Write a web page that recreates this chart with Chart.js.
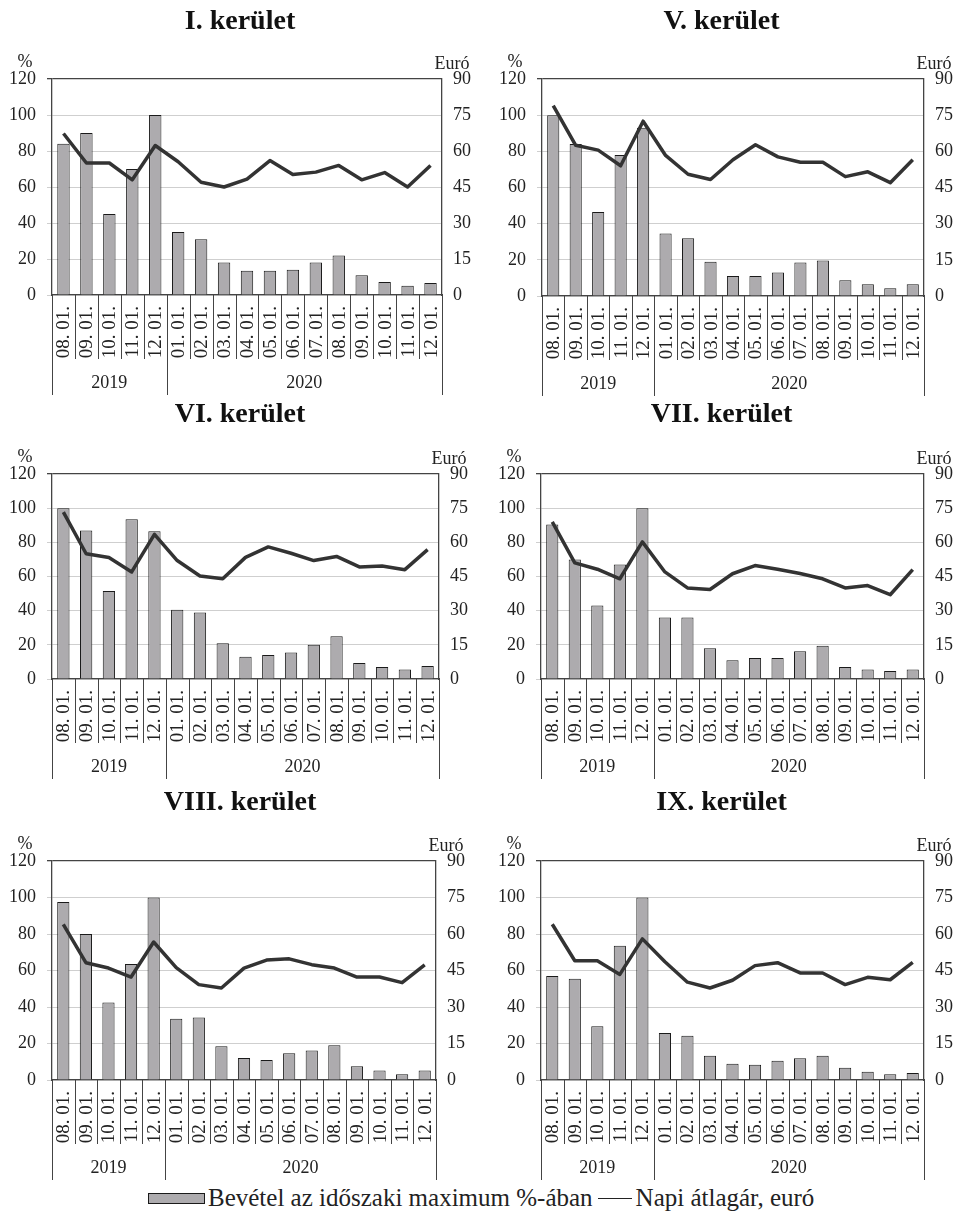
<!DOCTYPE html>
<html>
<head>
<meta charset="utf-8">
<script src="https://cdn.jsdelivr.net/npm/chart.js@4"></script>
<style>
  body { margin: 0; background: #fff; }
  #page { position: relative; width: 963px; height: 1214px; overflow: hidden; font-family: 'Liberation Serif', 'DejaVu Serif', serif; color: #222; }
  .panel { position: absolute; }
  #legend { position: absolute; left: 148px; top: 1183px; height: 30px; display: flex; align-items: center; font-size: 25px; white-space: nowrap; }
  .lbox { width: 55px; height: 9px; background: #adabae; border: 1px solid #1a1a1a; margin-right: 3px; }
  .lline { width: 34px; height: 0; border-top: 1.5px solid #222; margin: 0 4px 0 5px; }
</style>
</head>
<body>
<div id="page">
  <div id="legend">
    <div class="lbox"></div><span>Bevétel az időszaki maximum %-ában</span>
    <div class="lline"></div><span>Napi átlagár, euró</span>
  </div>
</div>
<script>
// month labels
const categories = ["08. 01.", "09. 01.", "10. 01.", "11. 01.", "12. 01.",
  "01. 01.", "02. 01.", "03. 01.", "04. 01.", "05. 01.", "06. 01.",
  "07. 01.", "08. 01.", "09. 01.", "10. 01.", "11. 01.", "12. 01."];
const years = ["2019", "2020"];
const yearCounts = [5, 12];

// revenue, % of max in period
const revI = [84, 90, 45, 70, 100, 35, 31, 18, 13.5, 13.5, 14, 18, 22, 11, 7.2, 5.2, 6.7];
const revV = [100, 84, 46.5, 78, 93, 34.5, 32, 19, 11, 11, 13, 18.5, 19.7, 8.7, 6.5, 4.3, 6.5];
const revVI = [100, 87, 51.5, 93.5, 86.5, 40.5, 39, 21, 13, 14, 15.5, 20, 25, 9.4, 7, 5.5, 7.6];
const revVII = [90.5, 70, 43, 67, 100, 36, 36, 18, 11, 12.3, 12.3, 16.3, 19.5, 7, 5.5, 4.7, 5.5];
const revVIII = [97.5, 80, 42.5, 63.5, 100, 33.5, 34.3, 18.5, 12, 11, 14.7, 16.2, 19, 7.5, 5.2, 3.2, 5.2];
const revIX = [57, 55.5, 29.5, 73.5, 100, 25.7, 24.2, 13.3, 8.9, 8.3, 10.5, 11.9, 13.3, 6.7, 4.5, 3.1, 3.9];

// daily average price, euro
const priceI = [67.3, 55, 55, 48, 62.3, 55.5, 47, 45, 48.3, 56, 50.2, 51.2, 54, 48, 51, 45, 54];
const priceV = [79, 62.5, 60.5, 54, 72.5, 58.3, 50.5, 48.3, 56.5, 62.7, 57.7, 55.5, 55.5, 49.5, 51.5, 47, 56.5];
const priceVI = [73.3, 55, 53.3, 47, 63.5, 52, 45.2, 44, 53.4, 58, 55.2, 52, 53.8, 49.2, 49.6, 48, 56.8];
const priceVII = [69, 51, 48.2, 44, 60.2, 47, 40, 39.3, 46.2, 49.8, 48.2, 46.3, 44, 40, 41, 37, 48];
const priceVIII = [64, 48.2, 46, 42.3, 56.7, 46.2, 39.2, 37.8, 46, 49.3, 49.8, 47.4, 46, 42.3, 42.3, 40, 47.3];
const priceIX = [64, 49, 49, 43.4, 58, 48.6, 40.2, 37.8, 41, 47, 48.2, 44, 44, 39.2, 42.2, 41.2, 48.3];

const pctMax = 120, pctStep = 20;
const euroMax = 90, euroStep = 15;

const FONT = "'Liberation Serif', 'DejaVu Serif', serif";
Chart.defaults.font.family = FONT;
Chart.defaults.color = "#222";

const panels = [
  { title: "I. kerület", rev: revI, price: priceI, x: 0, y: 0, w: 480, h: 400, left: 52, right: 38, top: 79, xh: 105 },
  { title: "V. kerület", rev: revV, price: priceV, x: 480, y: 0, w: 483, h: 400, left: 62, right: 39, top: 79, xh: 104 },
  { title: "VI. kerület", rev: revVI, price: priceVI, x: 0, y: 393, w: 480, h: 397, left: 52, right: 41, top: 81, xh: 111 },
  { title: "VII. kerület", rev: revVII, price: priceVII, x: 480, y: 393, w: 483, h: 397, left: 61, right: 39, top: 81, xh: 111 },
  { title: "VIII. kerület", rev: revVIII, price: priceVIII, x: 0, y: 781, w: 480, h: 433, left: 52, right: 44, top: 80, xh: 134 },
  { title: "IX. kerület", rev: revIX, price: priceIX, x: 480, y: 781, w: 483, h: 433, left: 61, right: 39, top: 80, xh: 134 },
];

// unit labels, rotated month labels, separators and year groups
const extras = {
  id: "extras",
  afterDraw(chart) {
    const ctx = chart.ctx;
    const area = chart.chartArea;
    const xs = chart.scales.x;
    ctx.save();
    ctx.fillStyle = "#222";
    ctx.font = "18px " + FONT;
    ctx.textBaseline = "middle";
    ctx.textAlign = "center";
    ctx.fillText("%", area.left - 27, area.top - 17);
    ctx.fillText("Euró", area.right + 10, area.top - 15);

    // month labels, reading bottom-up
    ctx.font = "19px " + FONT;
    ctx.textAlign = "right";
    categories.forEach((c, i) => {
      ctx.save();
      ctx.translate(xs.getPixelForValue(i) + 1, xs.top + 11);
      ctx.rotate(-Math.PI / 2);
      ctx.fillText(c, 0, 0);
      ctx.restore();
    });

    ctx.strokeStyle = "#444";
    ctx.lineWidth = 1;
    const line = (v, len) => {
      const px = Math.round(xs.getPixelForValue(v)) + 0.5;
      ctx.beginPath();
      ctx.moveTo(px, xs.top);
      ctx.lineTo(px, xs.top + len);
      ctx.stroke();
    };
    for (let i = 0; i <= categories.length; i++) line(i - 0.5, 64);

    ctx.font = "18px " + FONT;
    ctx.textAlign = "center";
    let start = 0;
    line(-0.5, 100);
    years.forEach((yr, i) => {
      const a = start - 0.5, b = start + yearCounts[i] - 0.5;
      line(b, 100);
      const mid = (xs.getPixelForValue(a) + xs.getPixelForValue(b)) / 2;
      ctx.fillText(yr, mid, xs.top + 88);
      start += yearCounts[i];
    });
    ctx.restore();
  },
};

const page = document.getElementById("page");
panels.forEach((p) => {
  const div = document.createElement("div");
  div.className = "panel";
  div.style.left = p.x + "px";
  div.style.top = p.y + "px";
  div.style.width = p.w + "px";
  div.style.height = p.h + "px";
  const cv = document.createElement("canvas");
  div.appendChild(cv);
  page.appendChild(div);

  new Chart(cv, {
    type: "bar",
    data: {
      labels: categories,
      datasets: [
        {
          type: "line",
          data: p.price,
          yAxisID: "y2",
          borderColor: "#333",
          borderWidth: 3.5,
          pointRadius: 0,
          tension: 0,
          borderJoinStyle: "round",
          order: 0,
        },
        {
          type: "bar",
          data: p.rev,
          yAxisID: "y",
          backgroundColor: "#adabae",
          borderColor: "#1a1a1a",
          borderWidth: 1,
          barPercentage: 0.54,
          categoryPercentage: 1,
          order: 1,
        },
      ],
    },
    options: {
      responsive: true,
      maintainAspectRatio: false,
      animation: false,
      layout: { padding: 0 },
      plugins: {
        legend: { display: false },
        tooltip: { enabled: false },
        title: {
          display: true,
          text: p.title,
          color: "#111",
          font: { size: 28, weight: "bold", family: FONT },
          padding: { top: 5.2, bottom: p.top - 38.8 },
        },
      },
      scales: {
        x: {
          offset: true,
          grid: { display: false },
          border: { color: "#444", width: 1.3 },
          ticks: { display: false },
          afterFit: (s) => { s.height = p.xh; },
        },
        y: {
          position: "left",
          min: 0,
          max: pctMax,
          ticks: { stepSize: pctStep, padding: 11, font: { size: 18 }, color: "#222" },
          grid: {
            tickLength: 5,
            color: (c) => (c.tick && c.tick.value === pctMax ? "#444" : "#cfcfcf"),
            lineWidth: (c) => (c.tick && c.tick.value === pctMax ? 1.3 : 1),
          },
          border: { color: "#444", width: 1.3 },
          afterFit: (s) => { s.width = p.left; },
        },
        y2: {
          position: "right",
          min: 0,
          max: euroMax,
          ticks: { stepSize: euroStep, padding: 11, font: { size: 18 }, color: "#222" },
          grid: { display: false, drawTicks: false },
          border: { color: "#444", width: 1.3 },
          afterFit: (s) => { s.width = p.right; },
        },
      },
    },
    plugins: [extras],
  });
});
</script>
</body>
</html>
